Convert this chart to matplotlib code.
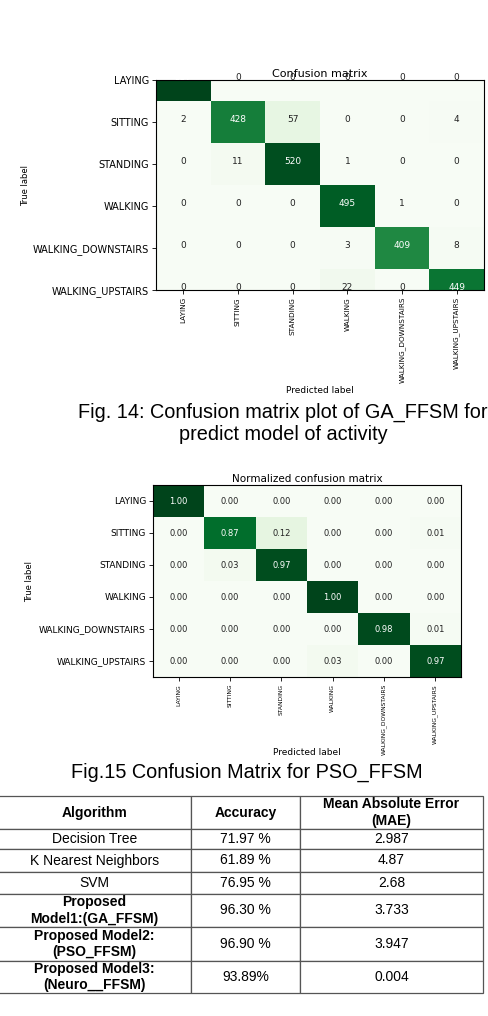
import numpy as np
import matplotlib.pyplot as plt
from matplotlib import font_manager

classes = ["LAYING", "SITTING", "STANDING", "WALKING",
           "WALKING_DOWNSTAIRS", "WALKING_UPSTAIRS"]

# GA_FFSM confusion matrix (counts)
ga_counts = np.array([
    [537, 0, 0, 0, 0, 0],
    [2, 428, 57, 0, 0, 4],
    [0, 11, 520, 1, 0, 0],
    [0, 0, 0, 495, 1, 0],
    [0, 0, 0, 3, 409, 8],
    [0, 0, 0, 22, 0, 449],
])

# PSO_FFSM normalized confusion matrix
pso_norm = np.array([
    [1.00, 0.00, 0.00, 0.00, 0.00, 0.00],
    [0.00, 0.87, 0.12, 0.00, 0.00, 0.01],
    [0.00, 0.03, 0.97, 0.00, 0.00, 0.00],
    [0.00, 0.00, 0.00, 1.00, 0.00, 0.00],
    [0.00, 0.00, 0.00, 0.00, 0.98, 0.01],
    [0.00, 0.00, 0.00, 0.03, 0.00, 0.97],
])

headers = ["Algorithm", "Accuracy", "Mean Absolute Error\n(MAE)"]
algorithms = ["Decision Tree", "K Nearest Neighbors", "SVM",
              "Proposed\nModel1:(GA_FFSM)", "Proposed Model2:\n(PSO_FFSM)",
              "Proposed Model3:\n(Neuro__FFSM)"]
accuracy = ["71.97 %", "61.89 %", "76.95 %", "96.30 %", "96.90 %", "93.89%"]
mae = ["2.987", "4.87", "2.68", "3.733", "3.947", "0.004"]

W, H = 488, 1016
CAPTION_FONT = "Liberation Sans"

installed = {f.name for f in font_manager.fontManager.ttflist}
NARROW = "Liberation Sans Narrow" if "Liberation Sans Narrow" in installed else "DejaVu Sans"


def px_axes(fig, left, top, right, bottom):
    return fig.add_axes([left / W, 1 - bottom / H, (right - left) / W, (bottom - top) / H])


def draw_cm(ax, cm, fmt, title, va, ylim, tick_fs, xtick_fs, num_fs, title_fs):
    ax.imshow(cm, interpolation="nearest", cmap="Greens", aspect="auto")
    ax.set_ylim(*ylim)
    ax.set_xlim(-0.5, cm.shape[1] - 0.5)
    ax.set_title(title, fontsize=title_fs, pad=2)
    ax.set_xticks(np.arange(len(classes)))
    ax.set_yticks(np.arange(len(classes)))
    ax.set_xticklabels(classes, rotation=90, fontsize=xtick_fs, family=NARROW)
    ax.set_yticklabels(classes, fontsize=tick_fs)
    ax.tick_params(length=3, width=0.6, pad=2)
    thresh = cm.max() / 2.0
    for i in range(cm.shape[0]):
        for j in range(cm.shape[1]):
            ax.text(j, i, format(cm[i, j], fmt), ha="center", va=va,
                    fontsize=num_fs,
                    color="white" if cm[i, j] > thresh else "#222222")
    for spine in ax.spines.values():
        spine.set_linewidth(0.8)


fig = plt.figure(figsize=(W / 100, H / 100), dpi=100)
fig.patch.set_facecolor("white")

# Fig. 14
ax1 = px_axes(fig, 156, 80, 484, 290)
draw_cm(ax1, ga_counts, "d", "Confusion matrix", "baseline", (5, 0),
        7, 5.2, 6.5, 8)
ax1.set_ylabel("True label", fontsize=6)
ax1.yaxis.set_label_coords(-0.385, 0.5)
ax1.set_xlabel("Predicted label", fontsize=6.5)
ax1.xaxis.set_label_coords(0.5, -0.457)

fig.text(283 / W, 1 - 412 / H, "Fig. 14: Confusion matrix plot of GA_FFSM for",
         ha="center", va="center", fontsize=14.3, family=CAPTION_FONT)
fig.text(283 / W, 1 - 434 / H, "predict model of activity",
         ha="center", va="center", fontsize=14.3, family=CAPTION_FONT)

# Fig. 15
ax2 = px_axes(fig, 153, 485, 461, 677)
draw_cm(ax2, pso_norm, ".2f", "Normalized confusion matrix", "center", (5.5, -0.5),
        6.5, 4.3, 6, 7.5)
ax2.set_ylabel("True label", fontsize=6, family=NARROW)
ax2.yaxis.set_label_coords(-0.385, 0.5)
ax2.set_xlabel("Predicted label", fontsize=6.5)
ax2.xaxis.set_label_coords(0.5, -0.37)

fig.text(247 / W, 1 - 772 / H, "Fig.15 Confusion Matrix for PSO_FFSM",
         ha="center", va="center", fontsize=14.3, family=CAPTION_FONT)

# results table
tax = px_axes(fig, -2, 796, 483, 993)
tax.axis("off")
cell_text = [[a, b, c] for a, b, c in zip(algorithms, accuracy, mae)]
tbl = tax.table(cellText=cell_text, colLabels=headers, cellLoc="center",
                bbox=[0, 0, 1, 1])
tbl.auto_set_font_size(False)
tbl.set_fontsize(10)

row_px = [33, 20, 23, 22, 33, 34, 32]
col_px = [193, 109, 183]
for (r, c), cell in tbl.get_celld().items():
    cell.set_height(row_px[r])
    cell.set_width(col_px[c])
    cell.set_edgecolor("#555555")
    cell.set_linewidth(0.9)
    txt = cell.get_text()
    txt.set_family(CAPTION_FONT)
    if r == 0 or (c == 0 and r >= 4):
        txt.set_fontweight("bold")

fig.savefig("out.png", dpi=100, facecolor="white")
